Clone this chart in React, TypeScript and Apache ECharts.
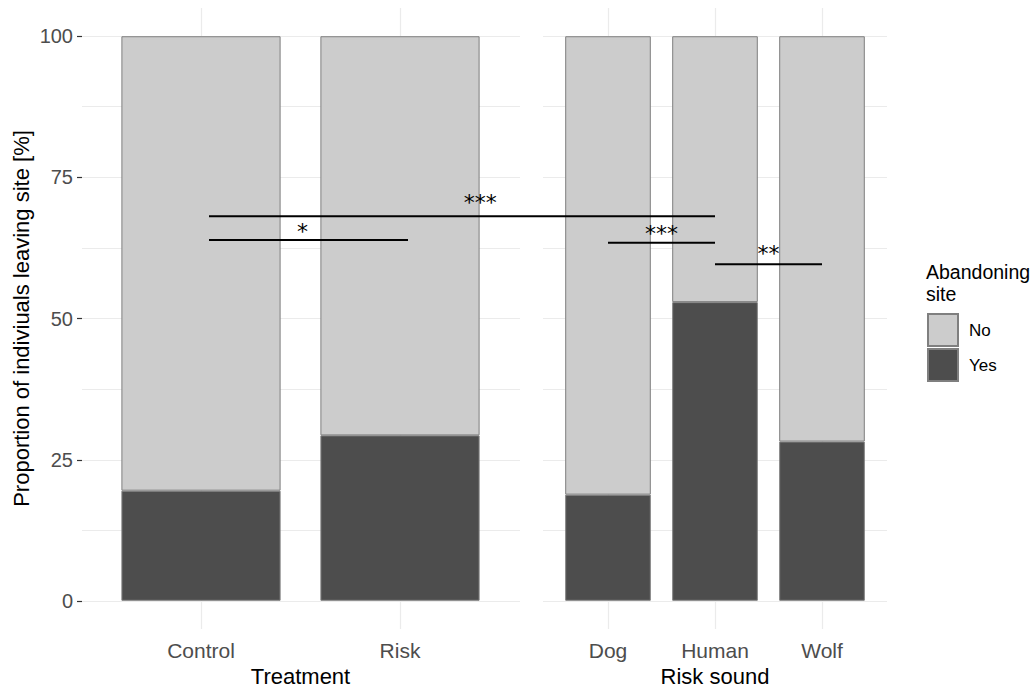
import React, { useEffect, useRef } from "react";
import * as echarts from "echarts";

// ---- data ----
const treatmentCats = ["Control", "Risk"];
const treatmentYes = [19.5, 29.3];
const treatmentNo = [80.5, 70.7];

const soundCats = ["Dog", "Human", "Wolf"];
const soundYes = [18.8, 52.9, 28.2];
const soundNo = [81.2, 47.1, 71.8];

const yTicks = [0, 25, 50, 75, 100];

// significance brackets: [panel, categoryIndex] endpoints, bracket height (%), label, label height (%), label position along bracket
const sigFrom = [[0, 0], [0, 0], [1, 0], [1, 1]];
const sigTo = [[1, 1], [0, 1], [1, 1], [1, 2]];
const sigY = [68.1, 63.9, 63.4, 59.6];
const sigLabels = ["***", "*", "***", "**"];
const sigLabelY = [70.9, 65.8, 65.4, 61.9];
const sigLabelT = [0.536, 0.47, 0.5, 0.5];

const FONT = "'Liberation Sans', Arial, Helvetica, sans-serif";
const GRID_COLOR = "#ebebeb";
const BORDER = "#7f7f7f";

export default function App() {
  const ref = useRef<HTMLDivElement>(null);

  useEffect(() => {
    if (!ref.current) return;
    const chart = echarts.init(ref.current, undefined, { renderer: "svg" });

    const catAxis = (gridIndex: number, data: string[], name: string) => ({
      type: "category",
      gridIndex,
      data,
      name,
      nameLocation: "middle",
      nameGap: 38,
      nameTextStyle: { fontSize: 22, lineHeight: 18, color: "#000", fontFamily: FONT },
      axisLine: { show: false },
      axisTick: { show: false },
      axisLabel: { fontSize: 21, color: "#4d4d4d", margin: 11, fontFamily: FONT },
      splitLine: { show: true, alignWithLabel: true, lineStyle: { color: GRID_COLOR, width: 1.2 } },
    });

    const valAxis = (gridIndex: number, showLabels: boolean) => ({
      type: "value",
      gridIndex,
      min: yTicks[0],
      max: yTicks[yTicks.length - 1],
      interval: yTicks[1] - yTicks[0],
      name: showLabels ? "Proportion of indiviuals leaving site [%]" : "",
      nameLocation: "middle",
      nameGap: 50,
      nameTextStyle: { fontSize: 22, color: "#000", fontFamily: FONT },
      axisLine: { show: false },
      axisTick: { show: showLabels, length: 5, lineStyle: { color: "#333333", width: 1.2 } },
      axisLabel: { show: showLabels, fontSize: 20, color: "#4d4d4d", margin: 9, fontFamily: FONT },
      splitLine: { show: true, lineStyle: { color: GRID_COLOR, width: 1.2 } },
      minorTick: { show: false, splitNumber: 2 },
      minorSplitLine: { show: true, lineStyle: { color: GRID_COLOR, width: 1 } },
    });

    const barSeries = (name: string, axisIndex: number, stack: string, data: number[], color: string) => ({
      type: "bar",
      name,
      xAxisIndex: axisIndex,
      yAxisIndex: axisIndex,
      stack,
      data,
      barCategoryGap: "20%",
      itemStyle: { color, borderColor: BORDER, borderWidth: 1 },
    });

    chart.setOption({
      animation: false,
      textStyle: { fontFamily: FONT },
      grid: [
        // category bands (bars, x labels, vertical grid lines)
        { left: 101.5, width: 398, top: 8, height: 621, outerBoundsMode: "none", containLabel: false },
        { left: 554.5, width: 321, top: 8, height: 621, outerBoundsMode: "none", containLabel: false },
        // panel backgrounds (y axis, horizontal grid lines)
        { left: 82, width: 438, top: 36, height: 565, outerBoundsMode: "none", containLabel: false },
        { left: 543, width: 344, top: 36, height: 565, outerBoundsMode: "none", containLabel: false },
      ],
      xAxis: [
        catAxis(0, treatmentCats, "Treatment"),
        catAxis(1, soundCats, "Risk sound"),
        { type: "value", gridIndex: 2, show: false },
        { type: "value", gridIndex: 3, show: false },
      ],
      yAxis: [
        { type: "value", gridIndex: 0, min: -5, max: 105, show: false },
        { type: "value", gridIndex: 1, min: -5, max: 105, show: false },
        valAxis(2, true),
        valAxis(3, false),
      ],
      legend: {
        data: ["No", "Yes"],
        orient: "vertical",
        left: 927,
        top: 313,
        padding: 0,
        itemWidth: 30,
        itemHeight: 32,
        itemGap: 1,
        icon: "rect",
        selectedMode: false,
        textStyle: { fontSize: 17, color: "#000", fontFamily: FONT, padding: [0, 0, 0, 6] },
      },
      series: [
        barSeries("Yes", 0, "treat", treatmentYes, "#4d4d4d"),
        barSeries("No", 0, "treat", treatmentNo, "#cccccc"),
        barSeries("Yes", 1, "sound", soundYes, "#4d4d4d"),
        barSeries("No", 1, "sound", soundNo, "#cccccc"),
      ],
    });

    // annotations computed through the axes
    const LEFT_SHIFT = 8;
    const px = (p: number[]) => {
      const x = chart.convertToPixel({ xAxisIndex: p[0] }, p[1]) as number;
      return x + (p[0] === 0 ? LEFT_SHIFT : 0);
    };
    const py = (v: number) => chart.convertToPixel({ yAxisIndex: 2 }, v) as number;

    const graphics: any[] = [];
    for (let i = 0; i < sigLabels.length; i++) {
      const x1 = px(sigFrom[i]);
      const x2 = px(sigTo[i]);
      const y = py(sigY[i]);
      graphics.push({
        type: "line",
        z: 10,
        shape: { x1, y1: y, x2, y2: y },
        style: { stroke: "#000", lineWidth: 2 },
      });
      graphics.push({
        type: "text",
        z: 10,
        x: x1 + (x2 - x1) * sigLabelT[i],
        y: py(sigLabelY[i]) + 2,
        style: {
          text: sigLabels[i],
          fill: "#000",
          font: "22px 'DejaVu Sans', sans-serif",
          textAlign: "center",
          textVerticalAlign: "middle",
        },
      });
    }
    graphics.push({
      type: "text",
      left: 926,
      top: 261,
      style: {
        text: "Abandoning\nsite",
        fill: "#000",
        font: `19.5px ${FONT}`,
        lineHeight: 22,
      },
    });
    chart.setOption({ graphic: graphics });

    return () => chart.dispose();
  }, []);

  return (
    <div
      ref={ref}
      style={{ position: "fixed", left: 0, top: 0, width: 1034, height: 688, background: "#fff" }}
    />
  );
}
